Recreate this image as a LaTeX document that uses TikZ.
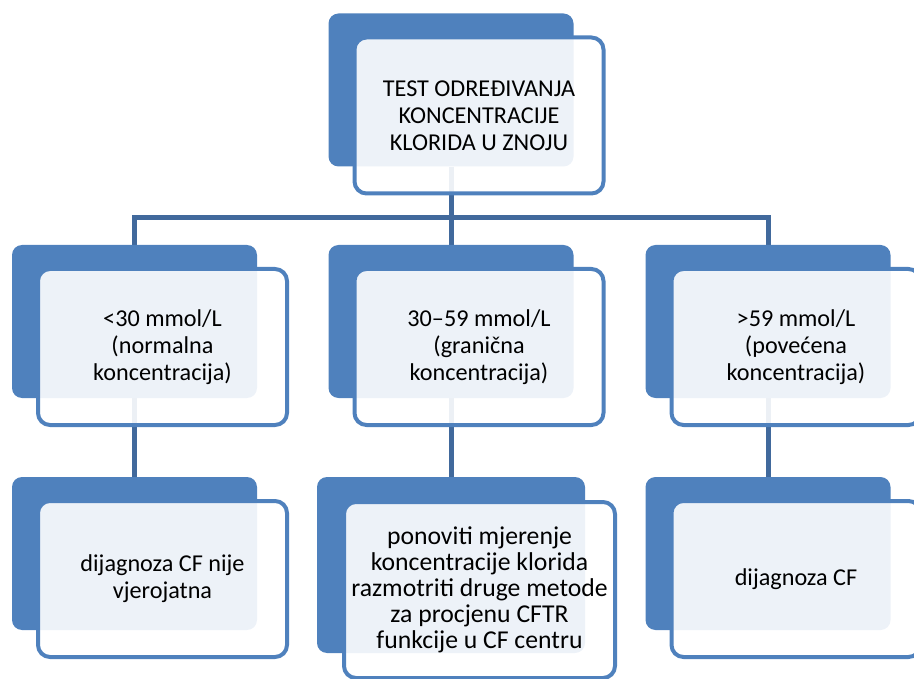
\documentclass[tikz,border=0pt]{standalone}
\usepackage{fontspec}
\setmainfont{Carlito}
\usetikzlibrary{positioning,calc,backgrounds}
\definecolor{cfblue}{HTML}{4F81BD}
\definecolor{cfline}{HTML}{41699C}

\tikzset{
    back/.style={fill=cfblue, rounded corners=10pt, inner sep=0pt,
        minimum width=245pt, minimum height=153pt},
    front/.style={fill=white, fill opacity=0.9, text opacity=1, draw=cfblue,
        line width=4pt, rounded corners=12pt, inner sep=0pt, align=center,
        minimum width=249pt, minimum height=156pt,
        font=\fontsize{24.2}{27}\selectfont},
    link/.style={draw=cfline, line width=5pt}
}

\begin{document}
\begin{tikzpicture}[x=1pt, y=-1pt]
            \useasboundingbox (0,0) rectangle (914,679);
            \clip (0,0) rectangle (914,679);
            % Row 1: the test
            \node[back] (testbg) at (451,90) {};
            \node[front] (test) at ([shift={(28,25.5)}]testbg.center)
                {TEST ODREĐIVANJA\\KONCENTRACIJE\\KLORIDA U ZNOJU};
            % Row 2: the three ranges
            \node[back] (lowbg) at (134.5,321.5) {};
            \node[front] (low) at ([shift={(28,25.5)}]lowbg.center)
                {<30 mmol/L\\(normalna\\koncentracija)};
            \node[back] (midbg) at (451,321.5) {};
            \node[front] (mid) at ([shift={(28,25.5)}]midbg.center)
                {30–59 mmol/L\\(granična\\koncentracija)};
            \node[back] (highbg) at (768,321.5) {};
            \node[front] (high) at ([shift={(28,25.5)}]highbg.center)
                {>59 mmol/L\\(povećena\\koncentracija)};
            % Row 3: what follows
            \node[back] (lowresbg) at (134.5,553.5) {};
            \node[front] (lowres) at ([shift={(28,25.5)}]lowresbg.center)
                {dijagnoza CF nije\\vjerojatna};
            \node[back, minimum width=268pt, minimum height=176pt] (midresbg) at (451,565) {};
            \node[front, minimum width=271pt, minimum height=176pt,
                font=\fontsize{25.7}{26}\selectfont] (midres)
                at ([shift={(28.5,25)}]midresbg.center)
                {ponoviti mjerenje\\koncentracije klorida\\razmotriti druge metode\\za procjenu CFTR\\funkcije u CF centru};
            \node[back] (highresbg) at (768,553.5) {};
            \node[front] (highres) at ([shift={(28,25.5)}]highresbg.center)
                {dijagnoza CF};
            % connectors, behind the boxes
            \begin{pgfonlayer}{background}
                \coordinate (bar) at (451,218);
                \draw[link] (testbg.south) -- (midbg.north);
                \draw[link] (lowbg.north) |- (bar) -| (highbg.north);
                \draw[link] (lowbg.south) -- (lowresbg.north);
                \draw[link] (midbg.south) -- (midresbg.north);
                \draw[link] (highbg.south) -- (highresbg.north);
            \end{pgfonlayer}
\end{tikzpicture}
\end{document}
